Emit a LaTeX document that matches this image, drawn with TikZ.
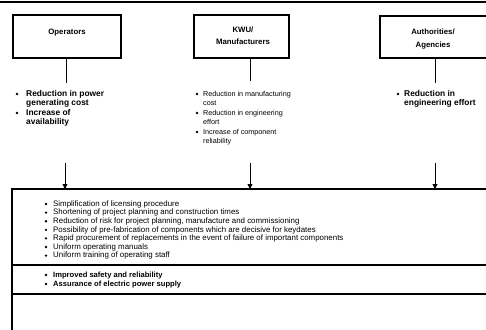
\documentclass[tikz,border=0pt]{standalone}
\usepackage{fontspec}
\setmainfont{Liberation Sans}
\usetikzlibrary{arrows.meta}
\begin{document}
\begin{tikzpicture}[x=1pt,y=-1pt,
  frame/.style={draw=black, line width=1.1pt, inner sep=0pt},
  rule/.style={draw=black, line width=1.1pt},
  lbl/.style={font=\fontsize{7.8}{12.5}\selectfont\bfseries, align=center, inner sep=0pt},
  opt/.style={font=\fontsize{8.4}{9}\selectfont\bfseries, align=left, inner sep=0pt, anchor=north west},
  kwt/.style={font=\fontsize{7.2}{9}\selectfont, align=left, inner sep=0pt, anchor=north west},
  bt/.style={font=\fontsize{7.9}{8.6}\selectfont, inner sep=0pt, anchor=north west},
  bbt/.style={font=\fontsize{7.6}{9}\selectfont\bfseries, inner sep=0pt, anchor=north west},
  dot/.style={circle, fill=black, inner sep=0pt, minimum size=2.6pt},
  conn/.style={line width=0.9pt},
  arr/.style={line width=0.9pt, -{Triangle[width=5pt,length=5pt]}},
]
\useasboundingbox (0,0) rectangle (486,329);
\clip (0,0) rectangle (486,329);

% top rule
\coordinate (tl) at (0,2);
\coordinate (tr) at (486,2);
\draw[line width=1.8pt] (tl) -- (tr);

% actor boxes
\node[frame, minimum width=108pt, minimum height=43pt] (op) at (67,36.5) {};
\node[lbl] (opl) at (67,33) {Operators};
\node[frame, minimum width=95pt, minimum height=43pt] (kw) at (241.5,36.5) {};
\node[lbl] (kwl) at (243,35.5) {KWU/\\Manufacturers};
\node[frame, minimum width=112pt, minimum height=42pt] (au) at (436,37) {};
\node[lbl] (aul) at (433,39) {Authorities/\\Agencies};

% stems
\coordinate (ope) at (66,83);
\coordinate (kwe) at (250,81);
\coordinate (aue) at (435,83);
\draw[conn] (op.south -| ope) -- (ope);
\draw[conn] (kw.south -| kwe) -- (kwe);
\draw[conn] (au.south -| aue) -- (aue);

% operator benefits
\node[dot] (od1) at (17,94) {};
\node[opt] (ot1) at (26,90) {Reduction in power\\generating cost};
\node[dot] (od2) at (17,113) {};
\node[opt] (ot2) at (26,109) {Increase of\\availability};

% manufacturer benefits
\node[dot] (kd1) at (197,94) {};
\node[kwt] (kt1) at (203,90.6) {Reduction in manufacturing\\cost};
\node[dot] (kd2) at (197,113) {};
\node[kwt] (kt2) at (203,109.6) {Reduction in engineering\\effort};
\node[dot] (kd3) at (197,132) {};
\node[kwt] (kt3) at (203,128.6) {Increase of component\\reliability};

% authority benefits
\node[dot] (ad1) at (398,94) {};
\node[opt] (at1) at (404,90) {Reduction in\\engineering effort};

% big box
\coordinate (btl) at (12,189);
\coordinate (btr) at (490,189);
\coordinate (bml) at (12,265);
\coordinate (bmr) at (490,265);
\coordinate (bbl) at (12,294);
\coordinate (bbr) at (490,294);
\coordinate (bend) at (12,330);
\draw[rule] (bend) -- (btl) -- (btr);
\draw[rule] (bml) -- (bmr);
\draw[rule] (bbl) -- (bbr);

% arrows
\coordinate (a1) at (65,163);
\coordinate (a2) at (250,163);
\coordinate (a3) at (435,163);
\draw[arr] (a1) -- (a1 |- btl);
\draw[arr] (a2) -- (a2 |- btl);
\draw[arr] (a3) -- (a3 |- btl);

% common benefits
\foreach \t [count=\i] in {
  Simplification of licensing procedure,
  Shortening of project planning and construction times,
  {Reduction of risk for project planning, manufacture and commissioning},
  Possibility of pre-fabrication of components which are decisive for keydates,
  Rapid procurement of replacements in the event of failure of important components,
  Uniform operating manuals,
  Uniform training of operating staff}{
  \pgfmathsetmacro{\yy}{204+8.6*(\i-1)}
  \node[dot] (cd\i) at (46,\yy) {};
  \node[bt] (ct\i) at (53,\yy-3.7) {\t};
}

\node[dot] (sd1) at (46,275) {};
\node[bbt] (st1) at (53,271.4) {Improved safety and reliability};
\node[dot] (sd2) at (46,284) {};
\node[bbt] (st2) at (53,280.4) {Assurance of electric power supply};
\end{tikzpicture}
\end{document}
